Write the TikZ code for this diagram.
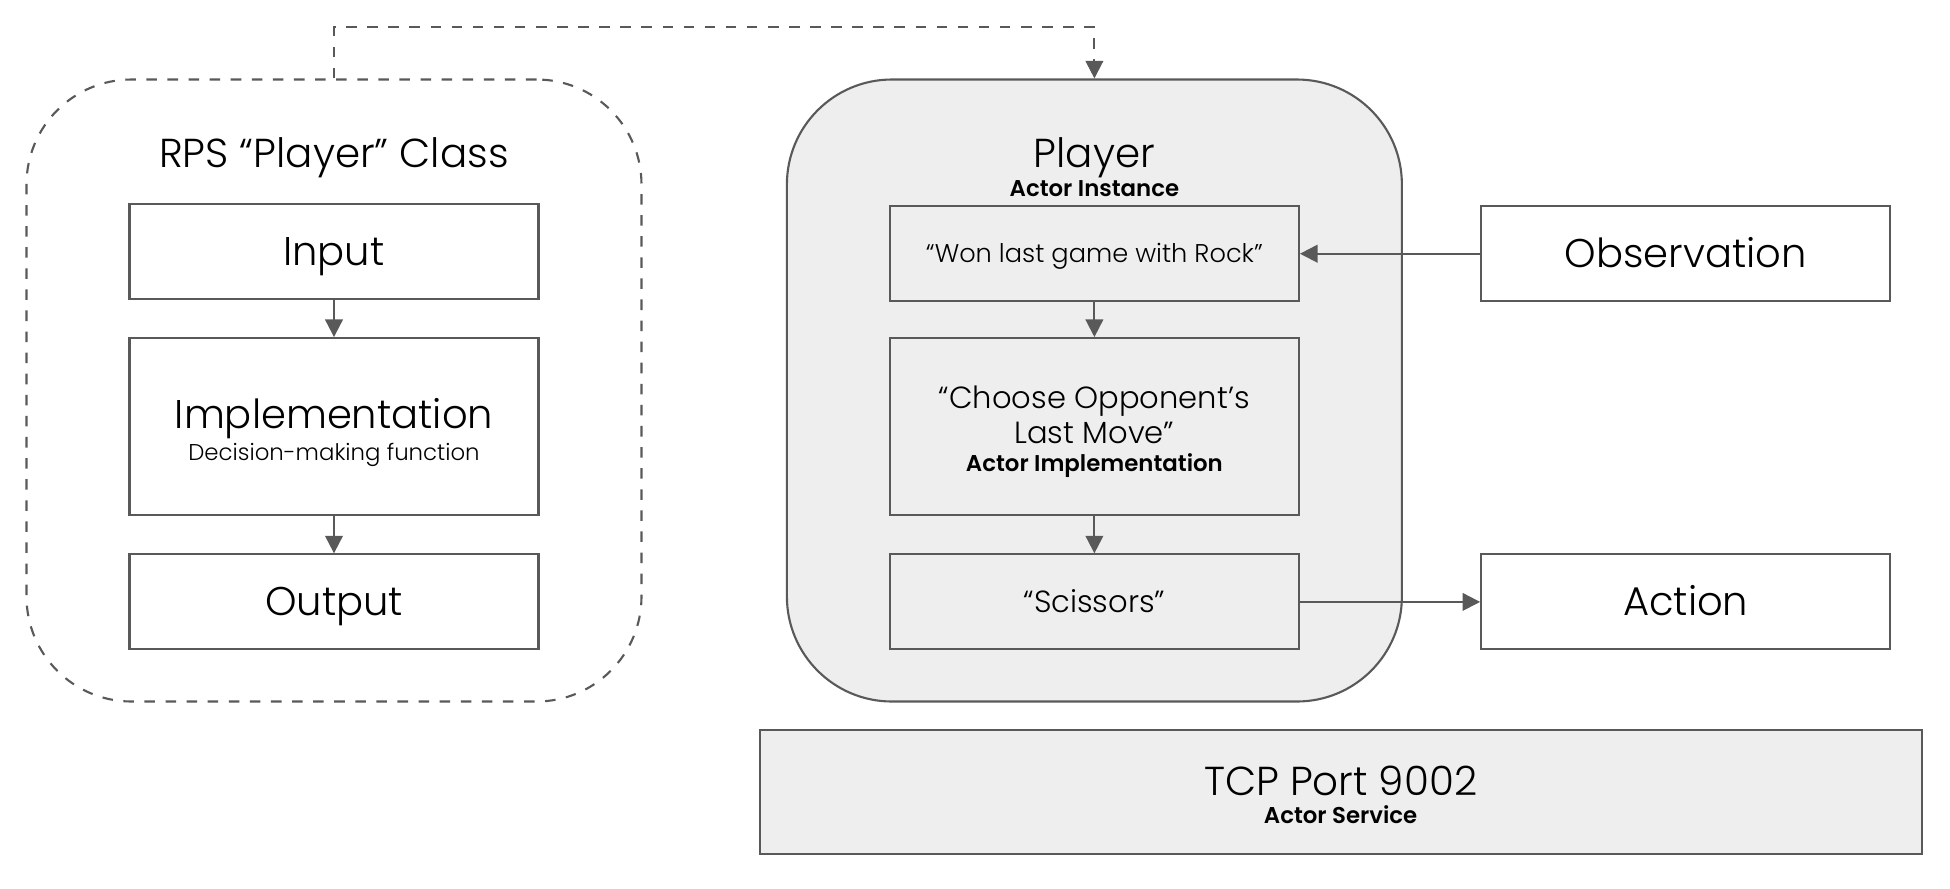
\documentclass[tikz,border=0pt]{standalone}
\usepackage{fontspec}
\setmainfont{Poppins}[UprightFont=*-Light, BoldFont=*-SemiBold]
\usepackage{tikz}
\usetikzlibrary{arrows.meta}
\definecolor{linegray}{HTML}{595959}
\definecolor{fillgray}{HTML}{EEEEEE}
\newcommand{\bigtxt}{\fontsize{11.4}{13}\selectfont}
\newcommand{\midtxt}{\fontsize{11.5}{13}\selectfont}
\newcommand{\choosetxt}{\fontsize{8.7}{10}\selectfont}
\newcommand{\smalltxt}{\fontsize{6.5}{8}\selectfont}
\newcommand{\wontxt}{\fontsize{7.3}{8}\selectfont}
\newcommand{\tagtxt}{\fontsize{6.5}{7}\selectfont\bfseries}
\newcommand{\topline}[1]{\rule{0pt}{#1}}

\begin{document}
\begin{tikzpicture}[
    box/.style={draw=linegray,line width=0.6pt,fill=white,minimum width=4.09cm,minimum height=0.95cm,inner sep=0pt,align=center},
    bigc/.style={text height=9pt,text depth=1pt},
    midc/.style={text height=7.1pt,text depth=1pt},
    smallc/.style={text height=6.1pt,text depth=1pt},
    rbox/.style={draw=linegray,line width=0.6pt,rounded corners=1.05cm,minimum width=6.15cm,minimum height=6.22cm},
    flow/.style={draw=linegray,line width=0.6pt,-{Triangle[length=5pt,width=5pt]}}
  ]
  \useasboundingbox (0,0) rectangle (19.5,-8.88);
  %\draw[thin,gray!40] (0,-8.88) grid (19.5,0);

  % left: class
  \node[rbox,dashed] (cls) at (3.34,-3.905) {};
  \node[font=\midtxt] (clstitle) at (3.34,-1.58) {RPS “Player” Class};
  \node[box,bigc] (input) at (3.34,-2.518) {\bigtxt Input};
  \node[box,minimum height=1.77cm] (impl) at (3.34,-4.266)
    {\bigtxt\topline{12pt}Implementation\\[-3pt]\smalltxt Decision-making function};
  \node[box,bigc] (output) at (3.34,-6.019) {\bigtxt Output};
  \draw[flow] (input) -- (impl);
  \draw[flow] (impl) -- (output);

  % middle: actor instance
  \node[rbox,fill=fillgray] (player) at (10.944,-3.905) {};
  \node[font=\midtxt] (playertitle) at (10.944,-1.58) {Player};
  \node[font=\tagtxt] (playertag) at (10.944,-1.89) {Actor Instance};
  \node[box,smallc,fill=fillgray] (won) at (10.944,-2.537) {\wontxt “Won last game with Rock”};
  \node[box,fill=fillgray,minimum height=1.77cm] (choose) at (10.944,-4.266)
    {\choosetxt\topline{9.4pt}“Choose Opponent’s\\[-2pt]\choosetxt Last Move”\\[-4pt]\tagtxt Actor Implementation};
  \node[box,midc,fill=fillgray] (sciss) at (10.944,-6.019) {\choosetxt “Scissors”};
  \draw[flow] (won) -- (choose);
  \draw[flow] (choose) -- (sciss);

  % right: environment
  \node[box,bigc] (obs) at (16.857,-2.537) {\bigtxt Observation};
  \node[box,bigc] (action) at (16.857,-6.019) {\bigtxt Action};
  \draw[flow] (obs) -- (won);
  \draw[flow] (sciss) -- (action);

  % bottom: service
  \node[box,fill=fillgray,minimum width=11.62cm,minimum height=1.24cm] (tcp) at (13.406,-7.922)
    {\midtxt\topline{10pt}TCP Port 9002\\[-4pt]\tagtxt Actor Service};

  \coordinate (up1) at (3.34,-0.274);
  \coordinate (up2) at (10.944,-0.274);
  \draw[flow,dashed] (cls.north) -- (up1) -- (up2) -- (player.north);
\end{tikzpicture}
\end{document}
